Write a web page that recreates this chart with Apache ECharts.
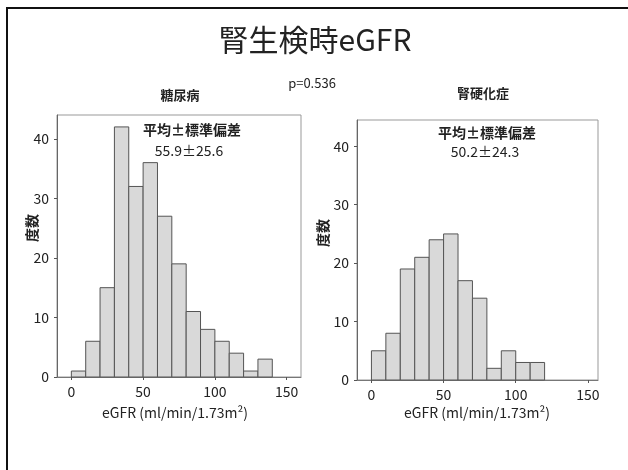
<!DOCTYPE html>
<html>
<head>
<meta charset="utf-8">
<script src="https://cdn.jsdelivr.net/npm/echarts@6/dist/echarts.min.js"></script>
<style>html,body{margin:0;padding:0;background:#fff}#c{width:628px;height:470px}</style>
</head>
<body>
<div id="c"></div>
<script>
const binStarts = [0, 10, 20, 30, 40, 50, 60, 70, 80, 90, 100, 110, 120, 130];
const binWidth = 10;
const diabetesCounts = [1, 6, 15, 42, 32, 36, 27, 19, 11, 8, 6, 4, 1, 3];
const sclerosisCounts = [5, 8, 19, 21, 24, 25, 17, 14, 2, 5, 3, 3, 0, 0];
const xTicks = [0, 50, 100, 150];
const yTicks = [0, 10, 20, 30, 40];
const mainTitle = '腎生検時eGFR';
const pText = 'p=0.536';
const groupNames = ['糖尿病', '腎硬化症'];
const statLabel = '平均±標準偏差';
const statValues = ['55.9±25.6', '50.2±24.3'];
const xName = 'eGFR (ml/min/1.73m²)';
const yName = '度数';

const FONT = '"Noto Sans CJK JP", "Noto Sans", sans-serif';
const chart = echarts.init(document.getElementById('c'), null, {renderer: 'canvas'});

function renderBin(params, api) {
  const x0 = api.value(0);
  const y = api.value(1);
  if (!y) return null;
  const p0 = api.coord([x0, 0]);
  const p1 = api.coord([x0 + binWidth, y]);
  return {
    type: 'rect',
    shape: {x: p0[0], y: p1[1], width: p1[0] - p0[0], height: p0[1] - p1[1]},
    style: {fill: '#d9d9d9', stroke: '#555', lineWidth: 1}
  };
}

function xAxis(idx, max) {
  return {
    type: 'value', gridIndex: idx, min: -10, max: max,
    splitLine: {show: false},
    axisLine: {show: true, onZero: false, lineStyle: {color: '#777'}},
    axisTick: {show: true, customValues: xTicks, length: 3, lineStyle: {color: '#555'}},
    axisLabel: {customValues: xTicks, color: '#222', fontSize: 14, fontFamily: FONT, margin: 8}
  };
}
function yAxis(idx, max) {
  return {
    type: 'value', gridIndex: idx, min: 0, max: max,
    splitLine: {show: false},
    axisLine: {show: true, onZero: false, lineStyle: {color: '#666'}},
    axisTick: {show: true, customValues: yTicks, length: 3, lineStyle: {color: '#555'}},
    axisLabel: {customValues: yTicks, color: '#222', fontSize: 14, fontFamily: FONT, margin: 8}
  };
}

const txt = (x, y, text, size, weight, extra) => Object.assign({
  type: 'text', x: x, y: y,
  style: {text: text, fill: '#222', font: (weight || 'normal') + ' ' + size + 'px ' + FONT,
          textAlign: 'center', textVerticalAlign: 'middle'}
}, extra || {});

chart.setOption({
  animation: false,
  grid: [
    {left: 57, top: 115, right: 327, bottom: 93, show: true, borderColor: '#999', borderWidth: 1},
    {left: 357, top: 120, right: 30, bottom: 90, show: true, borderColor: '#999', borderWidth: 1}
  ],
  xAxis: [xAxis(0, 160), xAxis(1, 157)],
  yAxis: [yAxis(0, 44), yAxis(1, 44.5)],
  series: [
    {type: 'custom', xAxisIndex: 0, yAxisIndex: 0, renderItem: renderBin,
     data: binStarts.map((s, i) => [s, diabetesCounts[i]])},
    {type: 'custom', xAxisIndex: 1, yAxisIndex: 1, renderItem: renderBin,
     data: binStarts.map((s, i) => [s, sclerosisCounts[i]])}
  ],
  graphic: [
    {type: 'rect', shape: {x: 7, y: 8, width: 640, height: 480}, style: {fill: 'none', stroke: '#111', lineWidth: 2}},
    txt(315, 40, mainTitle, 30, 'normal'),
    txt(312, 83, pText, 13, 'normal'),
    txt(180, 95, groupNames[0], 13, 'bold'),
    txt(483, 93, groupNames[1], 13, 'bold'),
    txt(192, 130, statLabel, 14, 'bold'),
    txt(189, 151, statValues[0], 14, 'normal'),
    txt(487, 133, statLabel, 14, 'bold'),
    txt(485, 152, statValues[1], 14, 'normal'),
    txt(175, 413, xName, 14, 'normal'),
    txt(477, 413, xName, 14, 'normal'),
    txt(32, 228, yName, 14, 'bold', {rotation: Math.PI / 2}),
    txt(323, 233, yName, 14, 'bold', {rotation: Math.PI / 2})
  ]
});
</script>
</body>
</html>
